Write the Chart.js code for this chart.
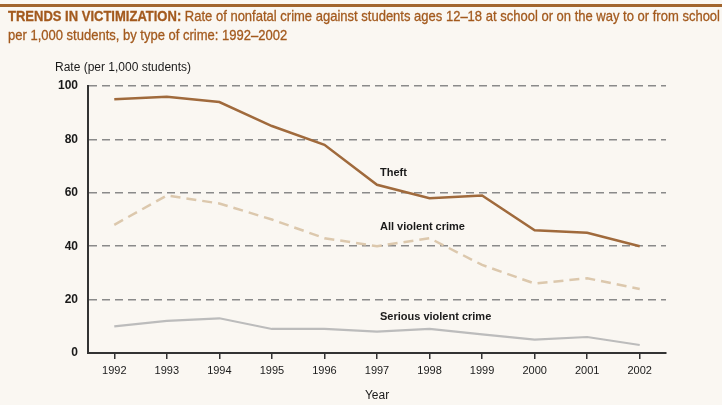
<!DOCTYPE html>
<html>
<head>
<meta charset="utf-8">
<script src="https://cdn.jsdelivr.net/npm/chart.js@4/dist/chart.umd.min.js"></script>
<style>
  html, body { margin: 0; padding: 0; background: #faf7f2; }
  #wrap { position: relative; width: 722px; height: 405px; overflow: hidden; background: #faf7f2; }
  #bar { position: absolute; left: 0; top: 4px; width: 722px; height: 3px; background: #a2652d; }
  .tline { position: absolute; left: 8px; font-family: "Liberation Sans", Arial, sans-serif; font-size: 14.5px; line-height: 17px; color: #a35a1e; white-space: nowrap; transform-origin: 0 0; -webkit-text-stroke: 0.3px #a35a1e; }
  #t1 { top: 8px; }
  #t2 { top: 27px; }
  canvas { position: absolute; left: 0; top: 0; }
</style>
</head>
<body>
<div id="wrap">
  <canvas id="c" width="722" height="405"></canvas>
  <div id="bar"></div>
  <div class="tline" id="t1"><b>TRENDS IN VICTIMIZATION:</b> Rate of nonfatal crime against students ages 12–18 at school or on the way to or from school</div>
  <div class="tline" id="t2">per 1,000 students, by type of crime: 1992–2002</div>
</div>
<script>
const years = ["1992","1993","1994","1995","1996","1997","1998","1999","2000","2001","2002"];
const theft = [95, 96, 94, 85, 78, 63, 58, 59, 46, 45, 40];
const allViolent = [48, 59, 56, 50, 43, 40, 43, 33, 26, 28, 24];
const seriousViolent = [10, 12, 13, 9, 9, 8, 9, 7, 5, 6, 3];
const seriesNames = ["Theft", "All violent crime", "Serious violent crime"];
const yAxisTitle = "Rate (per 1,000 students)";
const xAxisTitle = "Year";

// condense the title to the reference width
(function () {
  const t1 = document.getElementById('t1');
  const t2 = document.getElementById('t2');
  const s = 712 / t1.getBoundingClientRect().width;
  t1.style.transform = 'scaleX(' + s + ')';
  t2.style.transform = 'scaleX(' + s + ')';
})();

const FONT = '"Liberation Sans", Arial, sans-serif';

const annotations = {
  id: 'annotations',
  afterDatasetsDraw(chart) {
    const {ctx, scales: {x, y}, chartArea} = chart;
    ctx.save();
    ctx.fillStyle = '#1a1a1a';
    ctx.font = 'bold 11px ' + FONT;
    ctx.textBaseline = 'middle';
    ctx.textAlign = 'left';
    const lx = x.getPixelForValue(5);
    ctx.fillText(seriesNames[0], lx + 3, y.getPixelForValue(67.5));
    ctx.fillText(seriesNames[1], lx + 3, y.getPixelForValue(47.3));
    ctx.fillText(seriesNames[2], lx + 3, y.getPixelForValue(13.5));
    // axis titles
    ctx.font = '12px ' + FONT;
    ctx.fillText(yAxisTitle, 55, 68);
    ctx.textAlign = 'center';
    ctx.fillText(xAxisTitle, (chartArea.left + chartArea.right) / 2, 396);
    ctx.restore();
  }
};

new Chart(document.getElementById('c'), {
  type: 'line',
  data: {
    labels: years,
    datasets: [
      { label: seriesNames[0], data: theft, borderColor: '#a06a3c', borderWidth: 2.5, pointRadius: 0, tension: 0, fill: false },
      { label: seriesNames[1], data: allViolent, borderColor: '#dcc8ad', borderWidth: 2.5, borderDash: [10, 6], pointRadius: 0, tension: 0, fill: false },
      { label: seriesNames[2], data: seriousViolent, borderColor: '#bcbcbc', borderWidth: 2.2, pointRadius: 0, tension: 0, fill: false }
    ]
  },
  options: {
    responsive: false,
    animation: false,
    layout: { padding: { top: 86, left: 0, right: 56, bottom: 0 } },
    plugins: { legend: { display: false }, tooltip: { enabled: false }, title: { display: false } },
    scales: {
      x: {
        offset: true,
        grid: { display: true, offset: false, drawOnChartArea: false, drawTicks: true, tickLength: 6, color: '#333', lineWidth: 1.5 },
        border: { display: true, color: '#333', width: 2 },
        ticks: { color: '#1a1a1a', font: { family: FONT, size: 11 }, padding: 5, maxRotation: 0 },
        afterFit(s) { s.height = 52; }
      },
      y: {
        min: 0, max: 100,
        ticks: { stepSize: 20, color: '#1a1a1a', font: { family: FONT, size: 12, weight: 'bold' }, padding: 10 },
        grid: { color: '#8a8a8a', lineWidth: 1.5, drawTicks: false },
        border: { display: true, color: '#333', width: 2, dash: [8, 5] },
        afterFit(s) { s.width = 88; }
      }
    }
  },
  plugins: [annotations]
});
</script>
</body>
</html>
